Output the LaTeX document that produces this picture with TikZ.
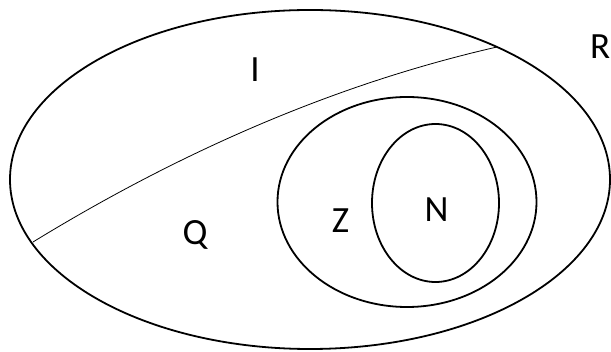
\documentclass[tikz,border=0pt]{standalone}
\usepackage{fontspec}
\setmainfont{Carlito}
\usetikzlibrary{shapes.geometric}

\begin{document}
\begin{tikzpicture}[
  x=1pt, y=-1pt,
  setshape/.style={draw=black, ellipse, line width=1.8pt, inner sep=0pt},
  setlabel/.style={font=\fontsize{37}{40}\selectfont, inner sep=0pt},
  cutline/.style={draw=black, line width=0.8pt},
]
\useasboundingbox (0,0) rectangle (611,352);

% Nested sets
\node[setshape, minimum width=600pt, minimum height=339pt] (reals) at (310,179.5) {};
\node[setshape, minimum width=259pt, minimum height=210pt] (integers) at (407,202) {};
\node[setshape, minimum width=127pt, minimum height=158pt] (naturals) at (435.5,203) {};

% Split between rationals and irrationals
\coordinate (cutL) at (33,242);
\coordinate (cutR) at (497,47);
\draw[cutline] (cutL) .. controls (187.7,147.3) and (342.3,82.3) .. (cutR);

% Set names
\node[setlabel, anchor=west] (lblR) at (590,47) {R};
\node[setlabel] (lblI) at (255,70) {I};
\node[setlabel] (lblQ) at (195,235) {Q};
\node[setlabel] (lblZ) at (340.5,220.5) {Z};
\node[setlabel] (lblN) at (436.5,210) {N};

\end{tikzpicture}
\end{document}
